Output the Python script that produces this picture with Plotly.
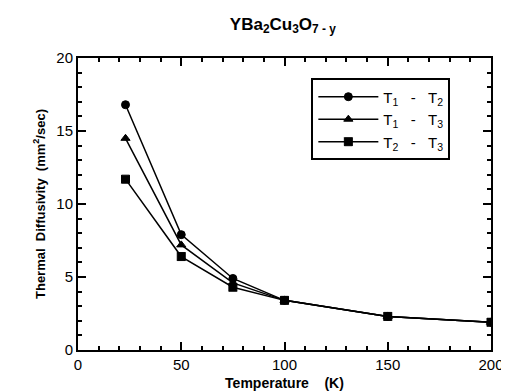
import plotly.graph_objects as go

temps = [23, 50, 75, 100, 150, 200]
t1_t2 = [16.8, 7.9, 4.9, 3.4, 2.3, 1.9]
t1_t3 = [14.5, 7.2, 4.6, 3.4, 2.3, 1.9]
t2_t3 = [11.7, 6.4, 4.3, 3.4, 2.3, 1.9]

names = ["T<sub>1</sub>   -   T<sub>2</sub>", "T<sub>1</sub>   -   T<sub>3</sub>", "T<sub>2</sub>   -   T<sub>3</sub>"]
symbols = ["circle", "triangle-up", "square-x"]

fig = go.Figure()
for ys, nm, sym in zip([t1_t2, t1_t3, t2_t3], names, symbols):
    fig.add_trace(go.Scatter(
        x=temps, y=ys, name=nm, mode="lines+markers",
        line=dict(color="black", width=1.5),
        marker=dict(symbol=sym, size=8, color="black", line=dict(color="black", width=1)),
    ))

fam = "Liberation Sans, Arial, sans-serif"

fig.update_layout(
    width=509, height=392,
    margin=dict(l=70, r=26, t=50, b=50, autoexpand=False),
    paper_bgcolor="white", plot_bgcolor="white",
    font=dict(family=fam, color="black", size=14),
    showlegend=True,
    title=dict(text="<b>YBa<sub>2</sub>Cu<sub>3</sub>O<sub>7 - y</sub></b>", x=0.54, xanchor="center",
               y=0.975, yanchor="top",
               font=dict(size=17, family=fam, color="black")),
    legend=dict(x=0.565, y=0.93, xanchor="left", yanchor="top",
                bordercolor="black", borderwidth=2, bgcolor="white",
                font=dict(size=15), tracegroupgap=4, itemwidth=60),
    xaxis=dict(range=[0, 200], tickvals=[0, 50, 100, 150, 200], ticks="inside", ticklen=8,
               tickwidth=2, tickcolor="black", automargin=False,
               minor=dict(tickvals=list(range(10, 200, 10)), ticks="inside", ticklen=4,
                          tickcolor="black", tickwidth=1.5, showgrid=False),
               showline=True, linecolor="black", linewidth=2, mirror="ticks", showgrid=False,
               zeroline=False,
               title=dict(text="<b>Temperature    (K)</b>", standoff=6, font=dict(size=14)),
               tickfont=dict(size=15)),
    yaxis=dict(range=[0, 20], tickvals=[0, 5, 10, 15, 20], ticks="inside", ticklen=8,
               tickwidth=2, tickcolor="black", automargin=False,
               minor=dict(tickvals=list(range(1, 20)), ticks="inside", ticklen=4,
                          tickcolor="black", tickwidth=1.5, showgrid=False),
               showline=True, linecolor="black", linewidth=2, mirror="ticks", showgrid=False,
               zeroline=False,
               title=dict(text="<b>Thermal  Diffusivity  (mm<sup>2</sup>/sec)</b>", standoff=8,
                          font=dict(size=13)),
               tickfont=dict(size=15)),
)

fig.write_html("out.html")
